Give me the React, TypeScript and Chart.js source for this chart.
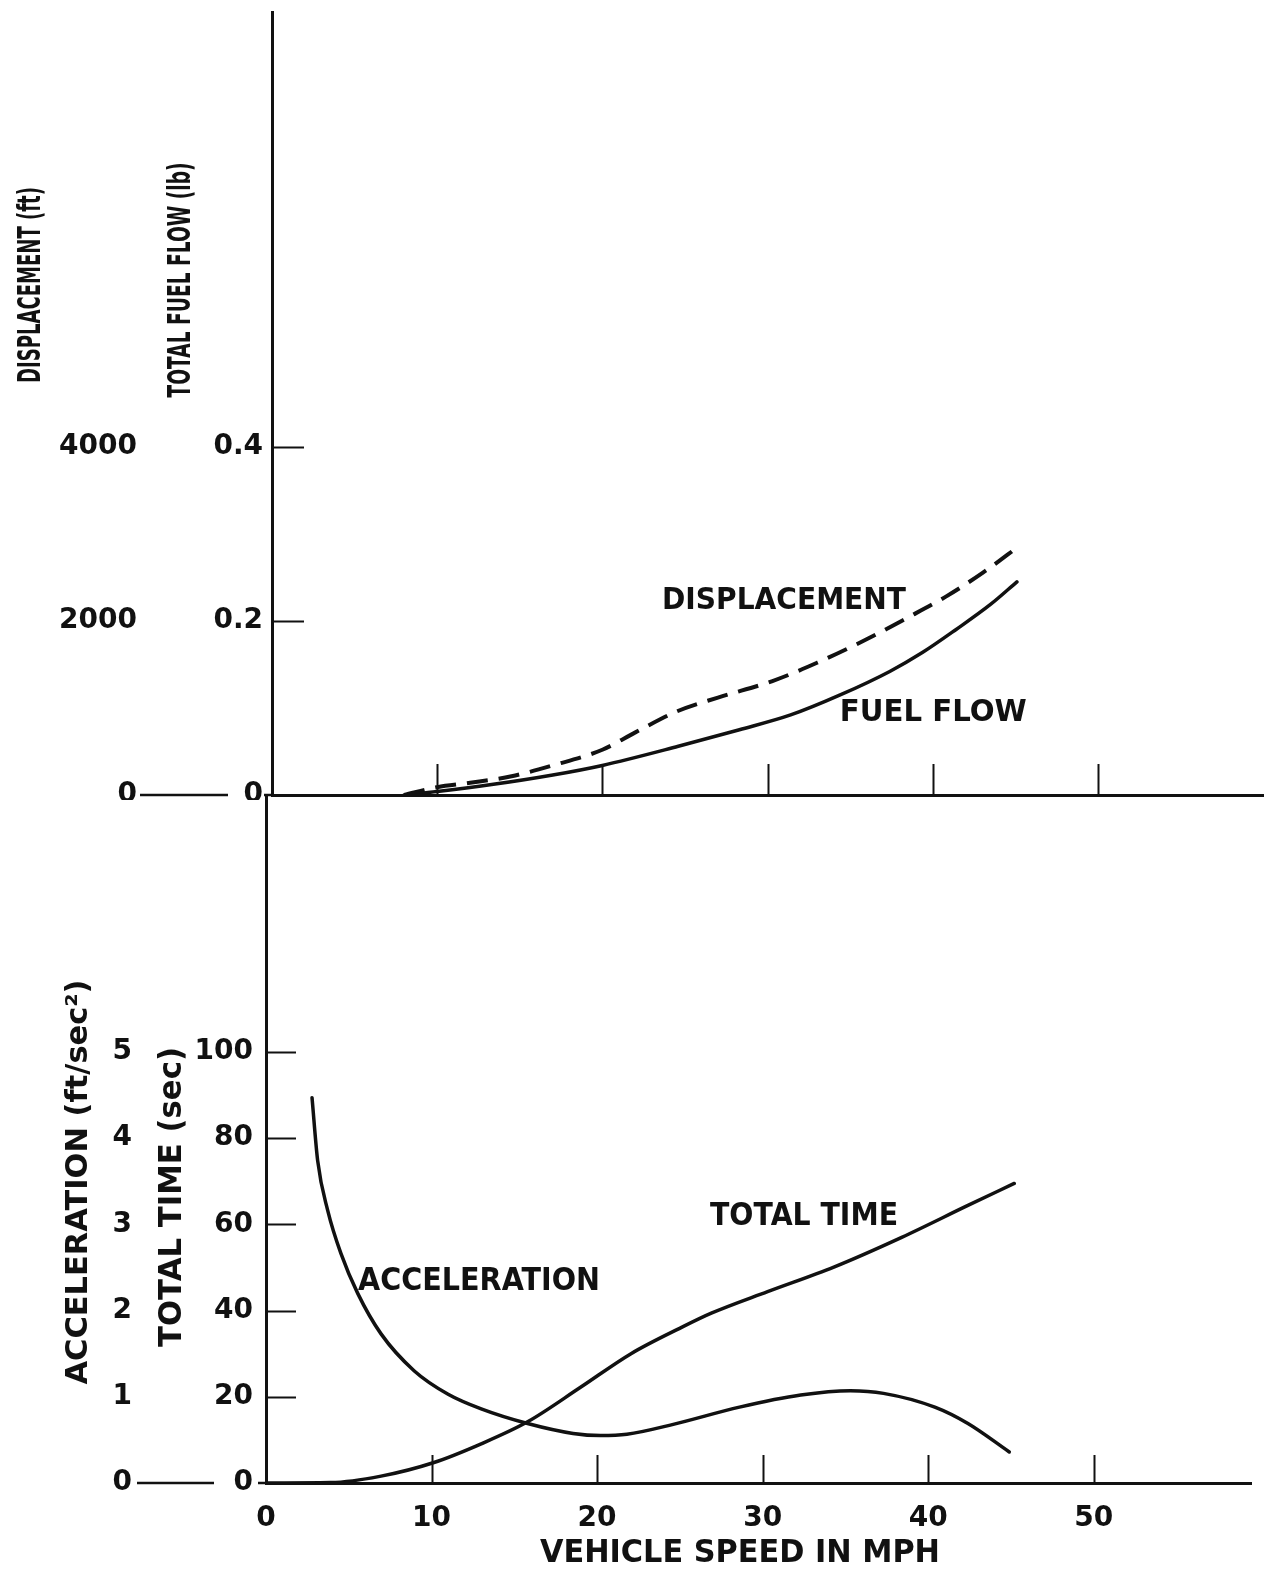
import React, { useEffect, useRef } from "react";
import { Chart, registerables } from "chart.js";

Chart.register(...registerables);

const INK = "#111111";
const FAMILY = "'DejaVu Sans', 'Liberation Sans', sans-serif";

// ---------- axes ----------
const speedTicks = [0, 10, 20, 30, 40, 50];
const fuelTicks = [0, 0.2, 0.4];
const displacementTicks = [0, 2000, 4000];
const timeTicks = [0, 20, 40, 60, 80, 100];
const accelTicks = [0, 1, 2, 3, 4, 5];

// ---------- upper panel ----------
// total fuel flow (lb) vs vehicle speed (mph)
const fuelSpeed = [8.0, 10, 13.3, 17, 20, 24.6, 28.3, 31.4, 34.4, 37.4, 39.4, 41.4, 43.5, 45.1];
const fuelFlow = [0, 0.004, 0.012, 0.023, 0.034, 0.056, 0.075, 0.092, 0.115, 0.142, 0.164, 0.19, 0.219, 0.245];

// displacement (ft) vs vehicle speed (mph)
const dispSpeed = [8.0, 10, 12, 14.5, 17, 20, 22, 24.5, 27, 30.3, 33.0, 36.0, 38.4, 40.8, 43.0, 45.3];
const displacement = [0, 90, 140, 215, 340, 520, 720, 960, 1120, 1310, 1520, 1790, 2030, 2280, 2550, 2870];

// ---------- lower panel ----------
// total time (sec) vs vehicle speed (mph)
const timeSpeed = [0, 3.9, 6.95, 10.1, 13.0, 15.8, 19.0, 22.05, 25.1, 26.9, 30.3, 34.3, 38.4, 42.4, 45.2];
const totalTime = [0, 0.1, 1.6, 4.7, 9.1, 14.2, 22.2, 30.0, 36.1, 39.4, 44.4, 50.1, 57.0, 64.4, 69.5];

// acceleration (ft/sec^2) vs vehicle speed (mph)
const accelSpeed = [2.78, 3.12, 3.73, 4.53, 5.54, 6.95, 8.96, 11.0, 13.0, 15.8, 18.55, 20.2, 21.8, 24.6, 28.6, 32.3, 35.3, 37.3, 40.4, 42.4, 44.9];
const acceleration = [4.47, 3.74, 3.16, 2.66, 2.2, 1.73, 1.3, 1.03, 0.86, 0.69, 0.575, 0.55, 0.565, 0.68, 0.88, 1.02, 1.07, 1.04, 0.88, 0.69, 0.36];

// curve labels (data coordinates)
const topNotes = [
  { text: "DISPLACEMENT", x: 31.0, y: 0.2264, size: 31, len: 244 },
  { text: "FUEL FLOW", x: 40.04, y: 0.0977, size: 31, len: 187 },
];
const bottomNotes = [
  { text: "TOTAL TIME", x: 32.5, y: 62.6, size: 32, len: 188 },
  { text: "ACCELERATION", x: 12.87, y: 47.6, size: 32, len: 242 },
];

const pts = (xs: number[], ys: number[]) => xs.map((x, i) => ({ x, y: ys[i] }));
const fixTicks = (vals: number[]) => (s: any) => {
  s.ticks = vals.map((v) => ({ value: v }));
};

type Title = { text: string; cx: number; cy: number; size: number; len: number; rot: number };
type Note = { text: string; x: number; y: number; size: number; len: number };

function drawFitted(ctx: CanvasRenderingContext2D, text: string, cx: number, cy: number, size: number, len: number, rot: number) {
  ctx.save();
  ctx.translate(cx, cy);
  ctx.rotate(rot);
  ctx.font = `bold ${size}px ${FAMILY}`;
  const w = ctx.measureText(text).width;
  ctx.scale(len / w, 1);
  ctx.textAlign = "center";
  ctx.textBaseline = "alphabetic";
  ctx.fillStyle = INK;
  ctx.fillText(text, 0, (size * 0.729) / 2);
  ctx.restore();
}

function makeDecor(cfg: {
  innerTick: number;
  xTick: number;
  zeroFrom: number;
  zeroTo: number;
  titles: Title[];
  notes: Note[];
}) {
  return {
    id: "decor",
    afterDraw(chart: any) {
      const ctx: CanvasRenderingContext2D = chart.ctx;
      const { left, bottom } = chart.chartArea;
      const xs = chart.scales.x;
      const ys = chart.scales.y;
      ctx.save();
      ctx.strokeStyle = INK;
      ctx.lineCap = "butt";
      ctx.lineWidth = 2;
      for (const t of ys.ticks) {
        if (t.value === 0) continue;
        const py = Math.round(ys.getPixelForValue(t.value)) + 0.5;
        ctx.beginPath();
        ctx.moveTo(left, py);
        ctx.lineTo(left + cfg.innerTick, py);
        ctx.stroke();
      }
      for (const t of xs.ticks) {
        if (t.value === 0) continue;
        const px = Math.round(xs.getPixelForValue(t.value)) + 0.5;
        ctx.beginPath();
        ctx.moveTo(px, bottom);
        ctx.lineTo(px, bottom - cfg.xTick);
        ctx.stroke();
      }
      const y0 = ys.getPixelForValue(0);
      ctx.lineWidth = 2.5;
      ctx.beginPath();
      ctx.moveTo(left - cfg.zeroFrom, y0);
      ctx.lineTo(left - cfg.zeroTo, y0);
      ctx.moveTo(left - 8, y0);
      ctx.lineTo(left, y0);
      ctx.stroke();
      ctx.restore();
      for (const t of cfg.titles) drawFitted(ctx, t.text, t.cx, t.cy, t.size, t.len, t.rot);
      for (const n of cfg.notes) {
        drawFitted(ctx, n.text, xs.getPixelForValue(n.x), ys.getPixelForValue(n.y), n.size, n.len, 0);
      }
    },
  };
}

const tickFont = (size: number) => ({ family: FAMILY, size, weight: "bold" as const });
const noGrid = { display: false, drawTicks: false, tickLength: 0 };

const curve = (label: string, data: any[], axis: string, width: number, dash?: number[]) => ({
  label,
  data,
  yAxisID: axis,
  borderColor: INK,
  borderWidth: width,
  borderDash: dash || [],
  pointRadius: 0,
  fill: false,
  cubicInterpolationMode: "monotone",
  borderCapStyle: dash ? "butt" : "round",
  borderJoinStyle: "round",
});

function topConfig(): any {
  return {
    type: "line",
    data: {
      datasets: [
        curve("Fuel flow", pts(fuelSpeed, fuelFlow), "y", 3.5),
        curve("Displacement", pts(dispSpeed, displacement), "y2", 4, [21, 11]),
      ],
    },
    options: {
      responsive: false,
      animation: false,
      devicePixelRatio: 1,
      events: [],
      layout: { padding: { left: 10, top: 12, right: 6, bottom: 0 } },
      plugins: { legend: { display: false }, tooltip: { enabled: false } },
      scales: {
        x: {
          type: "linear",
          min: 0,
          max: 60,
          afterBuildTicks: fixTicks(speedTicks),
          ticks: { display: false },
          grid: noGrid,
          border: { display: true, color: INK, width: 3 },
          afterFit: (s: any) => {
            s.height = 5;
            s.paddingLeft = 0;
            s.paddingRight = 0;
          },
        },
        y: {
          type: "linear",
          position: "left",
          weight: 0,
          min: 0,
          max: 0.9,
          afterBuildTicks: fixTicks(fuelTicks),
          ticks: { padding: 9, color: INK, font: tickFont(28), callback: (v: any) => String(v) },
          grid: noGrid,
          border: { display: true, color: INK, width: 3 },
          afterFit: (s: any) => {
            s.width = 122;
            s.paddingTop = 0;
            s.paddingBottom = 0;
          },
        },
        y2: {
          type: "linear",
          position: "left",
          weight: 1,
          min: 0,
          max: 9000,
          afterBuildTicks: fixTicks(displacementTicks),
          ticks: { padding: 13, color: INK, font: tickFont(28), callback: (v: any) => String(v) },
          grid: noGrid,
          border: { display: false },
          afterFit: (s: any) => {
            s.width = 140;
            s.paddingTop = 0;
            s.paddingBottom = 0;
          },
        },
      },
    },
    plugins: [
      makeDecor({
        innerTick: 32,
        xTick: 31,
        zeroFrom: 132,
        zeroTo: 44,
        titles: [
          { text: "DISPLACEMENT (ft)", cx: 28, cy: 285, size: 32, len: 196, rot: -Math.PI / 2 },
          { text: "TOTAL FUEL FLOW (lb)", cx: 178, cy: 280, size: 32, len: 235, rot: -Math.PI / 2 },
        ],
        notes: topNotes,
      }),
    ],
  };
}

function bottomConfig(): any {
  const yMax = 688 / 4.31;
  return {
    type: "line",
    data: {
      datasets: [
        curve("Total time", pts(timeSpeed, totalTime), "y", 3.5),
        curve("Acceleration", pts(accelSpeed, acceleration), "y2", 3.5),
      ],
    },
    options: {
      responsive: false,
      animation: false,
      devicePixelRatio: 1,
      events: [],
      layout: { padding: { left: 10, top: 10, right: 18, bottom: 0 } },
      plugins: { legend: { display: false }, tooltip: { enabled: false } },
      scales: {
        x: {
          type: "linear",
          min: 0,
          max: 59.5,
          afterBuildTicks: fixTicks(speedTicks),
          ticks: {
            padding: 19,
            color: INK,
            font: tickFont(28),
            maxRotation: 0,
            autoSkip: false,
            callback: (v: any) => String(v),
          },
          grid: noGrid,
          border: { display: true, color: INK, width: 3 },
          afterFit: (s: any) => {
            s.height = 88;
            s.paddingLeft = 0;
            s.paddingRight = 0;
          },
        },
        y: {
          type: "linear",
          position: "left",
          weight: 0,
          min: 0,
          max: yMax,
          afterBuildTicks: fixTicks(timeTicks),
          ticks: { padding: 13, color: INK, font: tickFont(28), callback: (v: any) => String(v) },
          grid: noGrid,
          border: { display: true, color: INK, width: 3 },
          afterFit: (s: any) => {
            s.width = 116;
            s.paddingTop = 0;
            s.paddingBottom = 0;
          },
        },
        y2: {
          type: "linear",
          position: "left",
          weight: 1,
          min: 0,
          max: yMax / 20,
          afterBuildTicks: fixTicks(accelTicks),
          ticks: {
            padding: 18,
            crossAlign: "center",
            color: INK,
            font: tickFont(28),
            callback: (v: any) => String(v),
          },
          grid: noGrid,
          border: { display: false },
          afterFit: (s: any) => {
            s.width = 140;
            s.paddingTop = 0;
            s.paddingBottom = 0;
          },
        },
      },
    },
    plugins: [
      makeDecor({
        innerTick: 30,
        xTick: 28,
        zeroFrom: 129,
        zeroTo: 52,
        titles: [
          { text: "ACCELERATION (ft/sec²)", cx: 76, cy: 397, size: 30, len: 405, rot: -Math.PI / 2 },
          { text: "TOTAL TIME (sec)", cx: 169, cy: 412, size: 32, len: 300, rot: -Math.PI / 2 },
          { text: "VEHICLE SPEED IN MPH", cx: 740, cy: 765, size: 32, len: 400, rot: 0 },
        ],
        notes: bottomNotes,
      }),
    ],
  };
}

export default function App() {
  const topRef = useRef<HTMLCanvasElement>(null);
  const botRef = useRef<HTMLCanvasElement>(null);
  useEffect(() => {
    const top = new Chart(topRef.current as HTMLCanvasElement, topConfig());
    const bot = new Chart(botRef.current as HTMLCanvasElement, bottomConfig());
    return () => {
      top.destroy();
      bot.destroy();
    };
  }, []);
  return (
    <div style={{ position: "absolute", left: 0, top: 0, width: 1269, height: 1571, background: "#fff" }}>
      <canvas
        ref={botRef}
        width={1269}
        height={786}
        style={{ position: "absolute", left: 0, top: 785, width: 1269, height: 786 }}
      />
      <canvas
        ref={topRef}
        width={1269}
        height={800}
        style={{ position: "absolute", left: 0, top: 0, width: 1269, height: 800 }}
      />
    </div>
  );
}
